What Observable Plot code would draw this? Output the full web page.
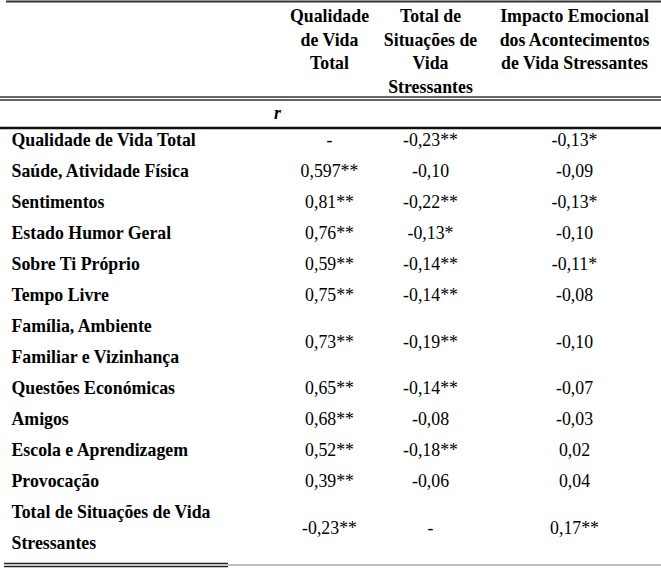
<!DOCTYPE html>
<html>
<head>
<meta charset="utf-8">
<script src="https://cdn.jsdelivr.net/npm/d3@7"></script>
<script src="https://cdn.jsdelivr.net/npm/@observablehq/plot@0.6"></script>
<style>
  html, body { margin: 0; padding: 0; background: #fff; }
  svg { display: block; }
</style>
</head>
<body>
<div id="chart"></div>
<script>
// ---- data ----
const columnHeaders = [
  "Qualidade\nde Vida\nTotal",
  "Total de\nSituações de\nVida\nStressantes",
  "Impacto Emocional\ndos Acontecimentos\nde Vida Stressantes"
];
const rowLabels = [
  "Qualidade de Vida Total",
  "Saúde, Atividade Física",
  "Sentimentos",
  "Estado Humor Geral",
  "Sobre Ti Próprio",
  "Tempo Livre",
  "Família, Ambiente\nFamiliar e Vizinhança",
  "Questões Económicas",
  "Amigos",
  "Escola e Aprendizagem",
  "Provocação",
  "Total de Situações de Vida\nStressantes"
];
const qualidadeVida = ["-", "0,597**", "0,81**", "0,76**", "0,59**", "0,75**", "0,73**", "0,65**", "0,68**", "0,52**", "0,39**", "-0,23**"];
const situacoesStress = ["-0,23**", "-0,10", "-0,22**", "-0,13*", "-0,14**", "-0,14**", "-0,19**", "-0,14**", "-0,08", "-0,18**", "-0,06", "-"];
const impactoEmocional = ["-0,13*", "-0,09", "-0,13*", "-0,10", "-0,11*", "-0,08", "-0,10", "-0,07", "-0,03", "0,02", "0,04", "0,17**"];
const statLabel = "r";

// ---- layout ----
const W = 661, H = 571;
const font = "Liberation Serif";
const fs = 17.8;
const colX = [329, 430, 574];
const labelX = 11;
const rowStep = 31;
const firstRowY = 140;
const headerStep = 23.6;
const headerFirstY = 16;

const labelData = [];
const rowY = [];
let slot = 0;
rowLabels.forEach(l => {
  const parts = l.split("\n");
  parts.forEach((p, j) => labelData.push({x: labelX, y: firstRowY + (slot + j) * rowStep, text: p}));
  rowY.push(firstRowY + (slot + (parts.length - 1) / 2) * rowStep);
  slot += parts.length;
});

const headerData = [];
columnHeaders.forEach((h, i) => h.split("\n").forEach((p, j) =>
  headerData.push({x: colX[i], y: headerFirstY + j * headerStep, text: p})));

const cellData = [];
[qualidadeVida, situacoesStress, impactoEmocional].forEach((col, c) => {
  col.forEach((v, r) => cellData.push({x: colX[c], y: rowY[r], text: v}));
});

const lines = [
  {y: 1, x1: 6, x2: W, w: 2, c: "#333"},
  {y: 96.5, x1: 0, x2: W, w: 1.3, c: "#333"},
  {y: 99.5, x1: 0, x2: W, w: 1.3, c: "#333"},
  {y: 127.5, x1: 0, x2: W, w: 2.6, c: "#111"},
  {y: 563, x1: 4, x2: 228, w: 1.3, c: "#222"},
  {y: 566, x1: 4, x2: 228, w: 1.3, c: "#222"},
  {y: 564.5, x1: 228, x2: W, w: 1.5, c: "#aaa"}
];

const chart = Plot.plot({
  width: W,
  height: H,
  margin: 0,
  x: {type: "linear", domain: [0, W], range: [0, W], axis: null},
  y: {type: "linear", domain: [0, H], range: [0, H], axis: null},
  style: {background: "#fff", color: "#000"},
  marks: [
    Plot.ruleY(lines, {y: "y", x1: "x1", x2: "x2", stroke: d => d.c, strokeWidth: d => d.w}),
    Plot.text(headerData, {x: "x", y: "y", text: "text", fontFamily: font,
      fontSize: fs, fontWeight: "bold", fill: "#000", textAnchor: "middle"}),
    Plot.text([{x: 277, y: 113, text: statLabel}], {x: "x", y: "y", text: "text", fontFamily: font,
      fontSize: fs, fontWeight: "bold", fontStyle: "italic", fill: "#000"}),
    Plot.text(labelData, {x: "x", y: "y", text: "text", textAnchor: "start", fontFamily: font,
      fontSize: fs, fontWeight: "bold", fill: "#000"}),
    Plot.text(cellData, {x: "x", y: "y", text: "text", textAnchor: "middle", fontFamily: font,
      fontSize: fs, fill: "#000"})
  ]
});
document.getElementById("chart").appendChild(chart);
</script>
</body>
</html>
